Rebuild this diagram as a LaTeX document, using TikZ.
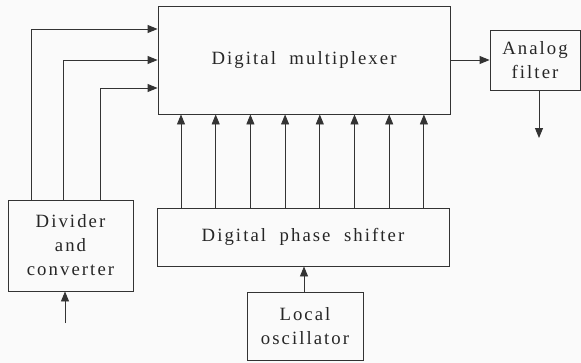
\documentclass[tikz,border=0pt]{standalone}
\usepackage{fontspec}
\setmainfont{Liberation Serif}
\newfontfamily\lblfont[LetterSpace=11]{Liberation Serif}
\usetikzlibrary{arrows.meta, positioning, calc}

\tikzset{
  block/.style={draw=black!80, line width=0.75pt, align=center, inner sep=2pt,
                font=\lblfont\fontsize{16}{20.5}\selectfont, text=black!85},
  sig/.style={-{Triangle[length=3mm, width=2.4mm]}, draw=black!80, line width=0.75pt},
}

\begin{document}
\begin{tikzpicture}[x=0.03cm, y=-0.03cm]
    \useasboundingbox[fill=gray!4] (0,0) rectangle (581,363);
    % blocks
    \node[block, minimum width=292*0.03cm, minimum height=108*0.03cm] (mux) at (304,60) {Digital\ \ multiplexer};
    \node[block, minimum width=90*0.03cm, minimum height=60*0.03cm] (filt) at (535,60) {Analog\\filter};
    \node[block, minimum width=125*0.03cm, minimum height=91*0.03cm] (div) at (70.5,245.5) {Divider\\and\\converter};
    \node[block, minimum width=292*0.03cm, minimum height=58*0.03cm] (shift) at (303,237) {Digital\ \ phase\ \ shifter};
    \node[block, minimum width=116*0.03cm, minimum height=68*0.03cm] (osc) at (305,326) {Local\\oscillator};
    % free ends
    \coordinate (in) at (65,323);
    \coordinate (out) at (539,138);
    % divider to multiplexer
    \draw[sig] (div.north -| 31,0) |- (mux.west |- 0,29);
    \draw[sig] (div.north -| 63,0) |- (mux.west |- 0,60);
    \draw[sig] (div.north -| 100,0) |- (mux.west |- 0,88);
    % phase outputs
    \foreach \i in {0,...,7}
      \draw[sig] (shift.north -| {181+34.7*\i},0) -- (mux.south -| {181+34.7*\i},0);
    % others
    \draw[sig] (mux.east |- filt.west) -- (filt.west);
    \draw[sig] (filt.south -| out) -- (out);
    \draw[sig] (in) -- (div.south -| in);
    \draw[sig] (osc.north -| 304,0) -- (shift.south -| 304,0);
\end{tikzpicture}
\end{document}
